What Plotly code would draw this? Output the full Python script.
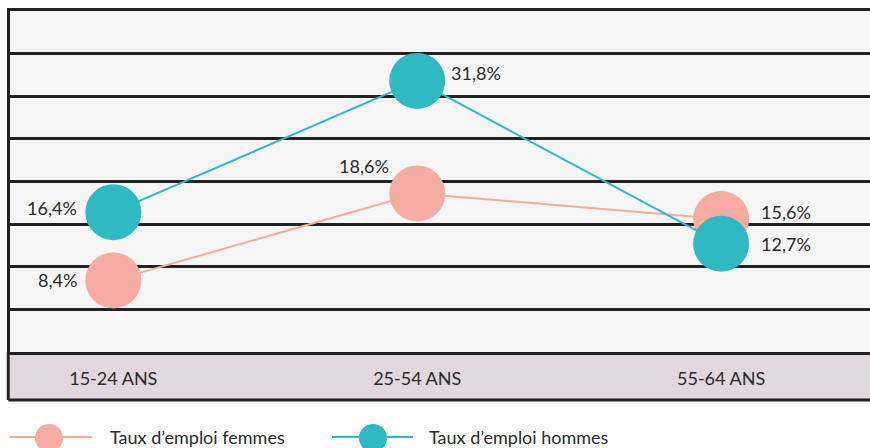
import plotly.graph_objects as go

categories = ["15-24 ANS", "25-54 ANS", "55-64 ANS"]
femmes = [8.4, 18.6, 15.6]
hommes = [16.4, 31.8, 12.7]
femmes_labels = ["8,4%", "18,6%", "15,6%"]
hommes_labels = ["16,4%", "31,8%", "12,7%"]
series_names = ["Taux d\u2019emploi femmes", "Taux d\u2019emploi hommes"]

PINK = "#f4ada0"
TEAL = "#2fb9c3"
DARK = "#222222"
TXT = "#2a2a2a"
FONT = "Lato"
FS = 18

W, H = 870, 448
ML, MR, MT, MB = 10, 0, 11, 96
PW, PH = W - ML - MR, H - MT - MB
x_pos = [0, 1, 2]


def px_x(px):
    return (px - ML) / PW


def px_y(py):
    return (H - MB - py) / PH


fig = go.Figure()
fig.add_trace(go.Scatter(
    x=x_pos, y=femmes, mode="lines+markers", name=series_names[0],
    line=dict(color=PINK, width=2), marker=dict(size=56, color=PINK),
    showlegend=False, hoverinfo="skip"))
fig.add_trace(go.Scatter(
    x=x_pos, y=hommes, mode="lines+markers", name=series_names[1],
    line=dict(color=TEAL, width=2), marker=dict(size=56, color=TEAL),
    showlegend=False, hoverinfo="skip"))

# data labels
f_off = [(-34, 0, "right"), (-26, 27, "right"), (38, 7, "left")]
h_off = [(-34, 4, "right"), (32, 8, "left"), (38, 0, "left")]
for vals, labs, offs in ((femmes, femmes_labels, f_off), (hommes, hommes_labels, h_off)):
    for xi, v, lab, (dx, dy, anc) in zip(x_pos, vals, labs, offs):
        fig.add_annotation(x=xi, y=v, xref="x", yref="y", text=lab, showarrow=False,
                           xanchor=anc, yanchor="middle", xshift=dx, yshift=dy,
                           font=dict(family=FONT, size=FS, color=TXT))

band_bottom = px_y(400)
shapes = [
    dict(type="rect", xref="paper", yref="paper", x0=0, x1=1.01, y0=band_bottom, y1=0,
         fillcolor="#e0d8dc", line=dict(width=0), layer="below"),
    dict(type="line", xref="paper", yref="paper", x0=-0.002, x1=1.01, y0=band_bottom, y1=band_bottom,
         line=dict(color=DARK, width=3)),
    dict(type="line", xref="paper", yref="paper", x0=-0.002, x1=-0.002, y0=band_bottom, y1=0,
         line=dict(color=DARK, width=3)),
]

# manual legend
leg_y = px_y(437)
for (lx0, lx1, cx, tx), col, name in (((10, 92, 49, 108), PINK, series_names[0]),
                                       ((332, 413, 373, 427), TEAL, series_names[1])):
    shapes.append(dict(type="line", xref="paper", yref="paper", x0=px_x(lx0), x1=px_x(lx1),
                       y0=leg_y, y1=leg_y, line=dict(color=col, width=2)))
    shapes.append(dict(type="circle", xref="paper", yref="paper",
                       x0=px_x(cx - 14), x1=px_x(cx + 14), y0=px_y(438 + 14), y1=px_y(438 - 14),
                       fillcolor=col, line=dict(width=0)))
    fig.add_annotation(x=px_x(tx), y=leg_y, xref="paper", yref="paper", text=name,
                       showarrow=False, xanchor="left", yanchor="middle",
                       font=dict(family=FONT, size=FS, color=TXT))

fig.update_layout(
    width=W, height=H, margin=dict(l=ML, r=MR, t=MT, b=MB),
    plot_bgcolor="#f5f5f5", paper_bgcolor="white", shapes=shapes, showlegend=False,
    font=dict(family=FONT, size=FS, color=TXT),
    xaxis=dict(range=[-0.34, 2.49], tickvals=x_pos, ticktext=categories, showgrid=False,
               zeroline=False, showline=True, mirror=True, linecolor=DARK, linewidth=3,
               ticks="", ticklabelstandoff=8, tickfont=dict(family=FONT, size=FS, color=TXT)),
    yaxis=dict(range=[0, 40], dtick=5, showgrid=True, gridcolor=DARK, gridwidth=3,
               zeroline=False, showline=True, linecolor=DARK, linewidth=3,
               showticklabels=False, ticks=""),
)

fig.write_html("out.html", config={"displayModeBar": False},
               post_script="document.body.style.margin='0';document.body.style.overflow='hidden';")
